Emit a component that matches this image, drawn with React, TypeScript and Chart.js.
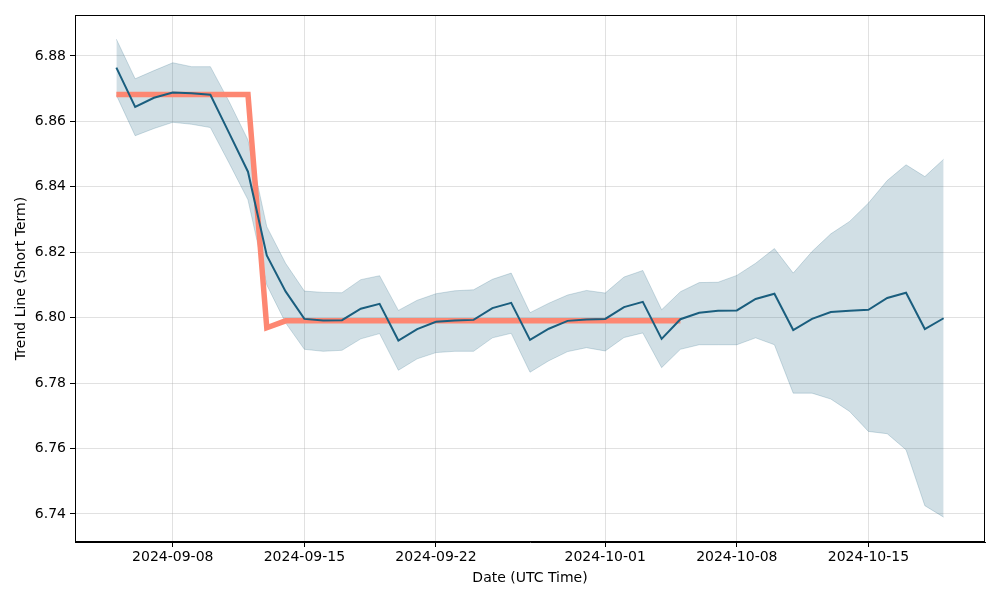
import React, { useEffect, useRef } from "react";
import { Chart, registerables } from "chart.js";

Chart.register(...registerables);

const dates: string[] = [
  "2024-09-05", "2024-09-06", "2024-09-07", "2024-09-08", "2024-09-09", "2024-09-10", "2024-09-11",
  "2024-09-12", "2024-09-13", "2024-09-14", "2024-09-15", "2024-09-16", "2024-09-17", "2024-09-18",
  "2024-09-19", "2024-09-20", "2024-09-21", "2024-09-22", "2024-09-23", "2024-09-24", "2024-09-25",
  "2024-09-26", "2024-09-27", "2024-09-28", "2024-09-29", "2024-09-30", "2024-10-01", "2024-10-02",
  "2024-10-03", "2024-10-04", "2024-10-05", "2024-10-06", "2024-10-07", "2024-10-08", "2024-10-09",
  "2024-10-10", "2024-10-11", "2024-10-12", "2024-10-13", "2024-10-14", "2024-10-15", "2024-10-16",
  "2024-10-17", "2024-10-18", "2024-10-19",
];

const meanValues: number[] = [
  6.8764, 6.8644, 6.8672, 6.8688, 6.8686, 6.8681, 6.8564, 6.8446, 6.819, 6.808,
  6.7996, 6.7991, 6.7992, 6.8027, 6.8042, 6.793, 6.7965, 6.7987, 6.7991, 6.7993,
  6.8029, 6.8045, 6.7932, 6.7966, 6.799, 6.7994, 6.7996, 6.8032, 6.8048, 6.7935,
  6.7995, 6.8015, 6.8021, 6.8022, 6.8057, 6.8073, 6.7962, 6.7996, 6.8017, 6.8021,
  6.8024, 6.806, 6.8076, 6.7965, 6.7998,
];

const upperValues: number[] = [
  6.8851, 6.873, 6.8755, 6.8779, 6.8767, 6.8767, 6.866, 6.8543, 6.8278, 6.8166,
  6.8081, 6.8077, 6.8076, 6.8116, 6.8128, 6.8022, 6.8053, 6.8073, 6.8082, 6.8085,
  6.8117, 6.8136, 6.8015, 6.8044, 6.8069, 6.8083, 6.8075, 6.8124, 6.8144, 6.8024,
  6.8079, 6.8107, 6.8108, 6.8129, 6.8166, 6.8211, 6.8136, 6.8202, 6.8256, 6.8294,
  6.835, 6.8419, 6.8467, 6.8431, 6.8484,
];

const lowerValues: number[] = [
  6.868, 6.8556, 6.8578, 6.8597, 6.8591, 6.8581, 6.8472, 6.836, 6.81, 6.7984,
  6.7903, 6.7897, 6.79, 6.7935, 6.7951, 6.7839, 6.7874, 6.7893, 6.7897, 6.7897,
  6.7938, 6.7952, 6.7833, 6.7868, 6.7896, 6.7908, 6.7898, 6.7939, 6.7953, 6.7847,
  6.7903, 6.7917, 6.7917, 6.7917, 6.7938, 6.7917, 6.7769, 6.7769, 6.7751, 6.7713,
  6.7652, 6.7645, 6.7596, 6.7425, 6.739,
];

const trendValues: (number | null)[] = [
  6.8682, 6.8682, 6.8682, 6.8682, 6.8682, 6.8682, 6.8682, 6.8682, 6.7969, 6.799,
  6.799, 6.799, 6.799, 6.799, 6.799, 6.799, 6.799, 6.799, 6.799, 6.799,
  6.799, 6.799, 6.799, 6.799, 6.799, 6.799, 6.799, 6.799, 6.799, 6.799,
  6.799, null, null, null, null, null, null, null, null, null,
  null, null, null, null, null,
];

const xTickLabels: string[] = ["2024-09-08", "2024-09-15", "2024-09-22", "2024-10-01", "2024-10-08", "2024-10-15"];
const yTickValues: number[] = [6.74, 6.76, 6.78, 6.8, 6.82, 6.84, 6.86, 6.88];

const DAY = 86400000;
const t0 = Date.parse(dates[0]);
const dayOf = (d: string) => (Date.parse(d) - t0) / DAY;
const toXY = (vals: (number | null)[]) => vals.map((v, i) => ({ x: dayOf(dates[i]), y: v }));

const FONT = "'DejaVu Sans', sans-serif";
const GRID = "rgba(176,176,176,0.38)";

const framePlugin = {
  id: "frame",
  afterDraw(chart: any) {
    const { ctx, chartArea } = chart;
    ctx.save();
    ctx.strokeStyle = "#000";
    ctx.lineWidth = 1;
    ctx.strokeRect(
      Math.round(chartArea.left) + 0.5,
      Math.round(chartArea.top) + 0.5,
      Math.round(chartArea.right - chartArea.left) - 1,
      Math.round(chartArea.bottom - chartArea.top) - 1
    );
    ctx.restore();
  },
};

export default function App() {
  const ref = useRef<HTMLCanvasElement | null>(null);

  useEffect(() => {
    document.body.style.margin = "0";
    if (!ref.current) return;
    const lastX = dayOf(dates[dates.length - 1]);
    const pad = lastX * 0.05;
    const chart = new Chart(ref.current, {
      type: "line",
      data: {
        datasets: [
          {
            label: "mean",
            data: toXY(meanValues) as any,
            borderColor: "rgb(26,94,126)",
            borderWidth: 2,
            pointRadius: 0,
            fill: false,
            order: 0,
            tension: 0,
          },
          {
            label: "trend",
            data: toXY(trendValues) as any,
            borderColor: "#fd8772",
            borderWidth: 5.5,
            pointRadius: 0,
            fill: false,
            order: 1,
            spanGaps: false,
            tension: 0,
          },
          {
            label: "upper",
            data: toXY(upperValues) as any,
            borderColor: "rgba(26,94,126,0.2)",
            backgroundColor: "rgba(26,94,126,0.2)",
            borderWidth: 1,
            pointRadius: 0,
            fill: "+1",
            order: 2,
            tension: 0,
          },
          {
            label: "lower",
            data: toXY(lowerValues) as any,
            borderColor: "rgba(26,94,126,0.2)",
            borderWidth: 1,
            pointRadius: 0,
            fill: false,
            order: 3,
            tension: 0,
          },
        ],
      },
      options: {
        animation: false,
        responsive: false,
        maintainAspectRatio: false,
        layout: { padding: { left: 0, right: 15, top: 15, bottom: 0 } },
        plugins: { legend: { display: false }, tooltip: { enabled: false } },
        scales: {
          x: {
            type: "linear",
            min: -pad,
            max: lastX + pad,
            afterBuildTicks: (scale: any) => {
              scale.ticks = xTickLabels.map((d) => ({ value: dayOf(d) }));
            },
            afterFit: (scale: any) => {
              scale.height = 58;
            },
            ticks: {
              autoSkip: false,
              maxRotation: 0,
              padding: 2,
              color: "#000",
              font: { family: FONT, size: 14 },
              callback: (v: any) => {
                const idx = xTickLabels.findIndex((d) => dayOf(d) === v);
                return idx >= 0 ? xTickLabels[idx] : "";
              },
            },
            grid: { color: GRID, tickColor: "#000", tickLength: 5, lineWidth: 1 },
            border: { display: true, color: "#000" },
            title: {
              display: true,
              text: "Date (UTC Time)",
              color: "#000",
              font: { family: FONT, size: 14 },
              padding: { top: 13.5, bottom: 13.5 },
            },
          },
          y: {
            type: "linear",
            min: 6.7314,
            max: 6.8925,
            afterBuildTicks: (scale: any) => {
              scale.ticks = yTickValues.map((v) => ({ value: v }));
            },
            afterFit: (scale: any) => {
              scale.width = 75;
            },
            ticks: {
              padding: 4,
              color: "#000",
              font: { family: FONT, size: 14 },
              callback: (v: any) => Number(v).toFixed(2),
            },
            grid: { color: GRID, tickColor: "#000", tickLength: 5, lineWidth: 1 },
            border: { display: true, color: "#000" },
            title: {
              display: true,
              text: "Trend Line (Short Term)",
              color: "#000",
              font: { family: FONT, size: 14 },
              padding: { top: 12.5, bottom: 12.5 },
            },
          },
        },
      } as any,
      plugins: [framePlugin],
    });
    return () => chart.destroy();
  }, []);

  return (
    <div style={{ width: 1000, height: 600, position: "relative" }}>
      <canvas ref={ref} width={1000} height={600} style={{ display: "block", width: 1000, height: 600 }} />
    </div>
  );
}
